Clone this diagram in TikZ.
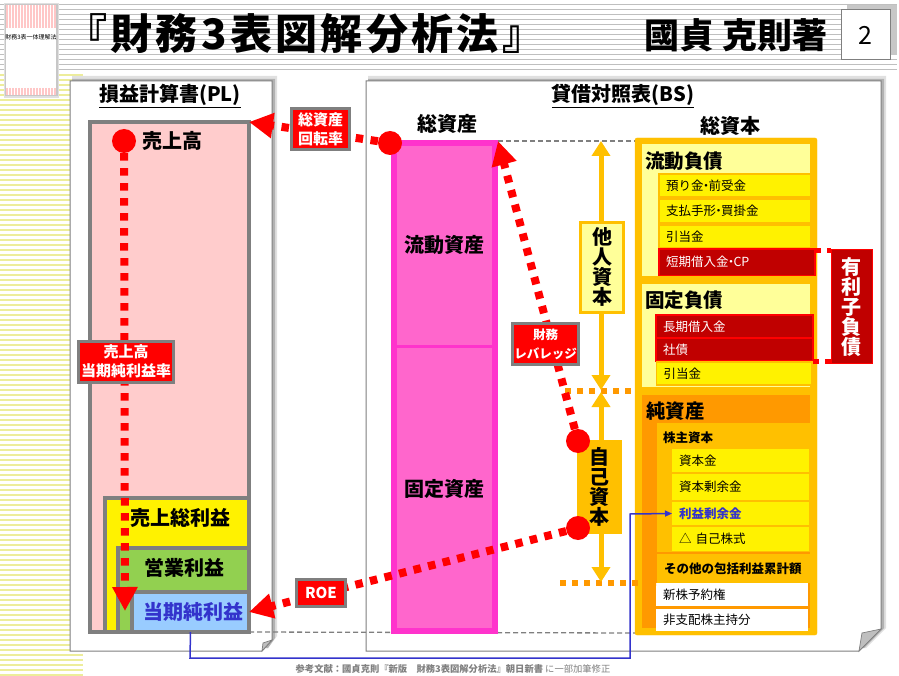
\documentclass[tikz,border=0pt]{standalone}
\usepackage{fontspec}
\setmainfont{Noto Sans CJK JP}
\usetikzlibrary{arrows.meta}
\definecolor{orgA}{HTML}{FFC000}
\definecolor{orgB}{HTML}{FF9900}
\definecolor{paleY}{HTML}{FFFF99}
\definecolor{darkR}{HTML}{C00000}
\definecolor{pinkF}{HTML}{FFCCCC}
\definecolor{magF}{HTML}{FF66CC}
\definecolor{magB}{HTML}{FF33CC}
\definecolor{grnF}{HTML}{92D050}
\definecolor{bluF}{HTML}{99CCFF}
\definecolor{bluT}{HTML}{3333CC}
\definecolor{gryB}{HTML}{7F7F7F}
\definecolor{strp}{HTML}{BFBFBF}
\definecolor{ystr}{HTML}{EDED9A}
\newcommand{\nkt}{\kern-.3em・\kern-.3em}
\newcommand{\lbox}[7]{%
  \pgfmathsetmacro{\myw}{#4-#2}\pgfmathsetmacro{\myh}{#5-#3}\pgfmathsetmacro{\myt}{#4-#2-14}%
  \node[anchor=north west,outer sep=0pt,inner xsep=7pt,inner ysep=0pt,align=left,text width=\myt pt,minimum width=\myw pt,minimum height=\myh pt,#6] (#1) at (#2,#3) {#7};}
\newcommand{\cbox}[7]{%
  \pgfmathsetmacro{\myw}{#4-#2}\pgfmathsetmacro{\myh}{#5-#3}%
  \node[anchor=north west,outer sep=0pt,inner sep=0pt,align=center,minimum width=\myw pt,minimum height=\myh pt,#6] (#1) at (#2,#3) {#7};}
\tikzset{
  x=1pt,y=-1pt,
  lab/.style={font=\fontsize{#1}{#1}\selectfont\bfseries,inner sep=0pt},
  rowy/.style={fill=yellow,draw=orgA,line width=1.5pt,font=\fontsize{12.5}{13}\selectfont},
  rowr/.style={fill=darkR,draw=red,line width=1.5pt,text=white,font=\fontsize{12.5}{13}\selectfont},
  roww/.style={fill=white,font=\fontsize{12.5}{13}\selectfont},
  headb/.style={font=\fontsize{19.5}{20}\selectfont\bfseries},
  plbox/.style={draw=gryB,line width=4pt},
  ratio/.style={fill=red,draw=gryB,line width=3pt,text=white,font=\fontsize{#1}{19}\selectfont\bfseries},
  dotr/.style={draw=red,line width=8pt,dash pattern=on 7.5pt off 7.5pt},
  doto/.style={draw=orgB,line width=6pt,dash pattern=on 6pt off 6pt},
  dotd/.style={draw=red,line width=5pt,dash pattern=on 6pt off 6pt},
  dashg/.style={draw=gryB,line width=1.3pt,dash pattern=on 5pt off 3pt},
  bigtip/.style={-{Triangle[length=24pt,width=24pt]}},
  dot/.style={circle,fill=red,minimum size=24pt,inner sep=0pt},
  oarrow/.style={draw=orgA,line width=5pt,{Triangle[length=15pt,width=18pt]}-{Triangle[length=15pt,width=18pt]}},
  sheet/.style={fill=white,draw=gryB,line width=1pt},
  stacktext/.style={font=\fontsize{#1}{#1}\selectfont\bfseries},
}
\begin{document}
\begin{tikzpicture}
\useasboundingbox (0,0) rectangle (899,676);
\fill[white] (0,0) rectangle (899,676);
% stripes
\foreach \yy in {75,80,...,675} \draw[ystr,line width=1.2pt] (0,\yy) -- (83,\yy);
\foreach \yy in {4.5,9.5,...,70} \draw[strp,line width=1pt] (0,\yy) -- (897,\yy);
\fill[black!22] (847,5) rectangle (897,55);
% thumbnail
\fill[black!12] (4,3) rectangle (59,98);
\fill[black!22] (5,4) rectangle (57.5,96.5);
\fill[white] (6,5) rectangle (56,95);
\foreach \xx in {7,10,...,55} {
  \draw[red!22,line width=1.2pt] (\xx,5) -- (\xx,28);
  \draw[red!22,line width=1.2pt] (\xx,88) -- (\xx,95);
}
\node[font=\fontsize{6}{6}\selectfont,inner sep=0pt] (thumbt) at (31,37) {財務3表一体理解法};
% title
\node[lab=42,anchor=west] (title) at (65,34) {\addfontfeature{LetterSpace=8}『財務3表図解分析法』};
\node[lab=35,anchor=east] (author) at (828,35) {國貞 克則著};
\cbox{pageno}{841}{10}{890}{60}{fill=white,draw=gryB,line width=1pt,font=\fontsize{25}{25}\selectfont}{2}
% sheets
\fill[black!12] (72,76) -- (277,76) -- (277,636) -- (268,648) -- (72,648) -- cycle;
\fill[black!30] (72,79) -- (275,79) -- (275,638) -- (268,648) -- (72,648) -- cycle;
\fill[black!12] (368,76) -- (886,76) -- (886,628) -- (866,648) -- (368,648) -- cycle;
\fill[black!30] (368,79) -- (884,79) -- (884,628) -- (864,648) -- (368,648) -- cycle;
\draw[sheet] (70,81) -- (272,81) -- (272,640) -- (262,651) -- (70,651) -- cycle;
\fill[black!25,draw=gryB,line width=.7pt] (262,651) -- (263,643) -- (272,640) -- cycle;
\draw[sheet] (366,81) -- (881,81) -- (881,629) -- (859,651) -- (366,651) -- cycle;
\fill[black!25,draw=gryB,line width=.7pt] (859,651) -- (862,633) -- (881,629) -- cycle;
\node[lab=20] (plhead) at (170,96) {\underline{損益計算書(PL)}};
\node[lab=20] (bshead) at (623,96) {\underline{貸借対照表(BS)}};
\node[lab=20] (tahead) at (447,124) {総資産};
\node[lab=20] (tchead) at (730,126) {総資本};
% PL boxes
\lbox{pla}{90}{122}{249}{632}{plbox,fill=pinkF}{}
\cbox{plb}{105}{498}{249}{632}{plbox,fill=yellow}{}
\cbox{plc}{118}{548}{249}{632}{plbox,fill=grnF}{}
\cbox{pld}{132}{592}{249}{632}{plbox,fill=bluF,lab=20,text=bluT}{\hspace*{6pt}当期純利益}
\node[lab=20] (turiage) at (172,141) {売上高};
\node[lab=20] (tgross) at (180,518) {売上総利益};
\node[lab=20] (top) at (184,568) {営業利益};
% guide dashes
\coordinate (ga) at (498,141);
\coordinate (gb) at (636,141);
\coordinate (gc) at (636,633);
\draw[dashg] (ga) -- (gb);
\draw[dashg] (pld.south east) -- (gc);
% blue link
\coordinate (bl1) at (190,658);
\coordinate (bl2) at (630,658);
\coordinate (bl3) at (630,514);
% assets
\cbox{ca}{394}{143}{495}{346}{fill=magF,draw=magB,line width=3pt,lab=20}{流動資産}
\cbox{fa}{394}{346}{495}{631}{fill=magF,draw=magB,line width=3pt,lab=20}{固定資産}
\draw[magB,line width=6pt] (ca.north west) rectangle (fa.south east);
% capital
\draw[fill=orgA,draw=orgA,rounded corners=2pt] (635,138) rectangle (817,635);
\lbox{cl}{642}{144}{810}{276}{fill=paleY}{}
\lbox{fl}{642}{284}{810}{387}{fill=paleY}{}
\node[headb,inner sep=0pt,anchor=west] (clt) at (645,161) {流動負債};
\node[headb,inner sep=0pt,anchor=west] (flt) at (645,300) {固定負債};
\lbox{r1}{659}{174}{811}{197}{rowy}{預り金\nkt 前受金}
\lbox{r2}{659}{199}{811}{223}{rowy}{支払手形\nkt 買掛金}
\lbox{r3}{659}{225}{811}{248}{rowy}{引当金}
\lbox{r4}{659}{249}{815}{275.5}{rowr}{短期借入金\nkt CP}
\lbox{r5}{656}{315}{813}{338}{rowr}{長期借入金}
\lbox{r6}{656}{338}{813}{361}{rowr}{社債}
\lbox{r7}{656.5}{362}{812}{385}{rowy}{引当金}
% net assets
\lbox{na}{642}{395}{810}{628}{fill=orgB}{}
\node[headb,inner sep=0pt,anchor=west] (nat) at (646,411) {純資産};
\lbox{sh}{657}{423}{810}{552}{fill=orgA}{}
\node[inner sep=0pt,anchor=west,font=\fontsize{12.5}{13}\selectfont\bfseries] (sht) at (663,438) {株主資本};
\lbox{n1}{672}{449}{809}{472}{fill=yellow,font=\fontsize{12.5}{13}\selectfont}{資本金}
\lbox{n2}{672}{474}{809}{500}{fill=yellow,font=\fontsize{12.5}{13}\selectfont}{資本剰余金}
\lbox{n3}{672}{502}{809}{525}{fill=yellow,text=bluT,font=\fontsize{12.5}{13}\selectfont\bfseries}{利益剰余金}
\lbox{n4}{672}{527}{809}{551}{fill=yellow,font=\fontsize{12.5}{13}\selectfont}{△ 自己株式}
\lbox{oc}{657}{554}{810}{583}{fill=orgA,font=\fontsize{12.5}{13}\selectfont\bfseries,inner xsep=6pt}{その他の包括利益累計額}
\lbox{w1}{656}{583}{808}{606}{roww,inner xsep=6pt}{新株予約権}
\lbox{w2}{656}{609}{808}{631}{roww,inner xsep=6pt}{非支配株主持分}
% interest bearing debt
\cbox{ibd}{831}{250}{872}{363}{fill=darkR,draw=red,line width=1pt,text=white,stacktext=20}{有\\利\\子\\負\\債}
\coordinate (i1) at (815,251);
\coordinate (i2) at (831,251);
\coordinate (i3) at (813,361);
\coordinate (i4) at (831,361);
\draw[dotd] (i1) -- (i2);
\draw[dotd] (i3) -- (i4);
% orange level marks
\coordinate (o1a) at (565,391);
\coordinate (o1b) at (636,391);
\coordinate (o2a) at (560,583);
\coordinate (o2b) at (656,583);
\draw[doto] (o1a) -- (o1b);
\draw[doto] (o2a) -- (o2b);
% capital arrows
\coordinate (a1) at (601,141);
\coordinate (a2) at (601,390);
\coordinate (a3) at (601,392);
\coordinate (a4) at (601,582);
\draw[oarrow] (a1) -- (a2);
\draw[oarrow] (a3) -- (a4);
\cbox{other}{580.5}{222.5}{623.5}{312}{fill=paleY,draw=orgA,line width=3pt,stacktext=20}{他\\人\\資\\本}
\cbox{own}{577}{440}{622}{534}{fill=orgA,stacktext=20}{自\\己\\資\\本}
% ratios
\node[dot] (d1) at (124,141) {};
\node[dot] (d2) at (390,143) {};
\node[dot] (d3) at (578,441) {};
\node[dot] (d4) at (578,528) {};
\coordinate (t1) at (125,611);
\coordinate (t2) at (249,122);
\coordinate (t3) at (498,141);
\coordinate (t4) at (249,612);
\draw[dotr,bigtip] (d1) -- (t1);
\draw[dotr,bigtip] (d2) -- (t2);
\draw[dotr,bigtip] (d3) -- (t3);
\draw[dotr,bigtip] (d4) -- (t4);
\cbox{q1}{291.5}{108.5}{349.5}{149.5}{ratio=15}{総資産\\回転率}
\cbox{q2}{512.5}{323.5}{578.5}{364.5}{ratio=12.5}{財務\\レバレッジ}
\cbox{q3}{78.5}{341}{173.5}{382.5}{ratio=15}{売上高\\当期純利益率}
\cbox{q4}{296.5}{579.5}{345.5}{606.5}{ratio=15}{ROE}
% blue link on top
\draw[draw=bluT,line width=1.5pt,-{Triangle[length=7pt,width=6pt]}] (pld.south) -- (bl1) -- (bl2) -- (bl3) -- (n3.west);
% footer
\node[inner sep=0pt,text=gray,font=\fontsize{9.3}{10}\selectfont] (foot) at (453,669) {\textbf{参考文献：國貞克則『新版　財務3表図解分析法』朝日新書} に一部加筆修正};
\end{tikzpicture}
\end{document}
